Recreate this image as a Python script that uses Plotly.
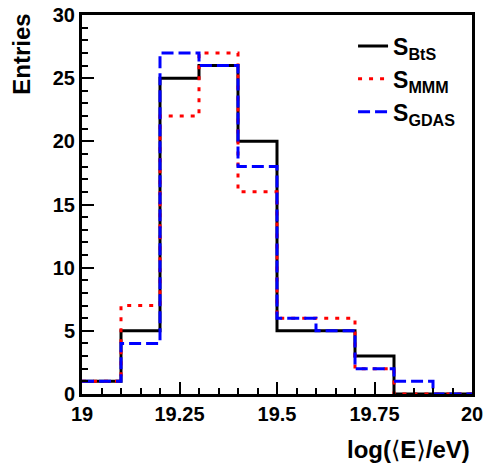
import plotly.graph_objects as go

# ---- data ----
bin_edges = [19.0, 19.1, 19.2, 19.3, 19.4, 19.5, 19.6, 19.7, 19.8, 19.9, 20.0]
counts_bts = [1, 5, 25, 26, 20, 5, 5, 3, 0, 0]
counts_mmm = [1, 7, 22, 27, 16, 6, 6, 2, 0, 0]
counts_gdas = [1, 4, 27, 26, 18, 6, 5, 2, 1, 0]
series_names = ["<b>S<sub>BtS</sub></b>", "<b>S<sub>MMM</sub></b>", "<b>S<sub>GDAS</sub></b>"]
x_tick_vals = [19, 19.25, 19.5, 19.75, 20]
x_tick_text = ["19", "19.25", "19.5", "19.75", "20"]
y_tick_vals = [0, 5, 10, 15, 20, 25, 30]
y_tick_text = ["0", "5", "10", "15", "20", "25", "30"]

FONT = "Liberation Sans, Arial, DejaVu Sans, sans-serif"

fig = go.Figure()
styles = [
    dict(color="black", width=3, dash="solid"),
    dict(color="#ff0000", width=3, dash="4px,7px"),
    dict(color="#0000ff", width=3, dash="12px,5px"),
]
for counts, name, st in zip([counts_bts, counts_mmm, counts_gdas], series_names, styles):
    fig.add_trace(go.Scatter(
        x=bin_edges, y=counts + [counts[-1]], mode="lines", name=name,
        line=dict(shape="hv", **st),
    ))

fig.update_layout(
    width=485, height=467,
    margin=dict(l=82, r=13, t=15, b=73, autoexpand=False),
    paper_bgcolor="white", plot_bgcolor="white",
    font=dict(family=FONT, color="black", size=20),
    showlegend=True,
    legend=dict(
        x=0.695, y=0.975, xanchor="left", yanchor="top",
        bgcolor="rgba(0,0,0,0)", borderwidth=0,
        font=dict(family=FONT, size=23, color="black"),
        tracegroupgap=0, itemwidth=30,
    ),
)
fig.update_xaxes(
    range=[19, 20], showgrid=False, zeroline=False,
    showline=True, linecolor="black", linewidth=3, mirror=True,
    ticks="inside", ticklen=12, tickwidth=2, tickcolor="black",
    tickmode="array", tickvals=x_tick_vals, ticktext=["<b>%s</b>" % t for t in x_tick_text],
    tickfont=dict(family=FONT, size=20), automargin=False,
    minor=dict(ticks="inside", dtick=0.05, tick0=19, ticklen=6, tickwidth=2, tickcolor="black", showgrid=False),
)
fig.update_yaxes(
    range=[0, 30], showgrid=False, zeroline=False,
    showline=True, linecolor="black", linewidth=3, mirror=True,
    ticks="inside", ticklen=12, tickwidth=2, tickcolor="black",
    tickmode="array", tickvals=y_tick_vals, ticktext=["<b>%s</b>" % t for t in y_tick_text],
    tickfont=dict(family=FONT, size=20), automargin=False,
    minor=dict(ticks="inside", dtick=1, tick0=0, ticklen=6, tickwidth=2, tickcolor="black", showgrid=False),
)
fig.add_annotation(
    text="<b>Entries</b>", textangle=-90, xref="paper", yref="paper",
    x=-0.154, y=1.01, xanchor="center", yanchor="top", showarrow=False,
    font=dict(family=FONT, size=24),
)
fig.add_annotation(
    text=("<b>log(</b><span style=\"font-family:'DejaVu Sans';font-weight:normal\">⟨</span>"
          "<b>E</b><span style=\"font-family:'DejaVu Sans';font-weight:normal\">⟩</span><b>/eV)</b>"),
    xref="paper", yref="paper",
    x=1.0, y=-0.148, xanchor="right", yanchor="middle", showarrow=False,
    font=dict(family=FONT, size=24),
)

fig.write_html("out.html")
